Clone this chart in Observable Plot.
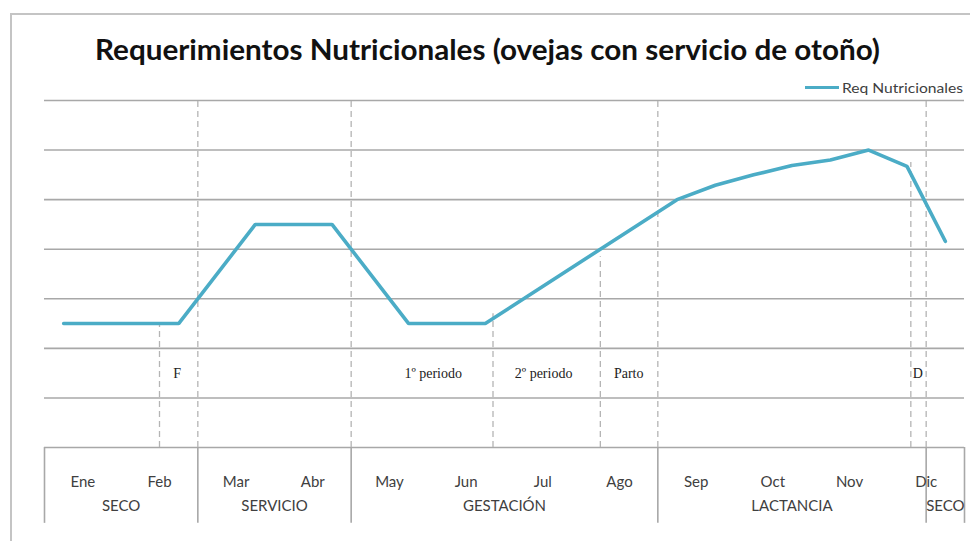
<!DOCTYPE html>
<html>
<head>
<meta charset="utf-8">
<script src="https://cdn.jsdelivr.net/npm/d3@7"></script>
<script src="https://cdn.jsdelivr.net/npm/@observablehq/plot@0.6"></script>
<style>
  html, body { margin: 0; padding: 0; background: #fff; }
  #wrap { position: relative; width: 970px; height: 541px; overflow: hidden; }
  #frame { position: absolute; left: 10px; top: 13px; width: 1000px; height: 600px;
           border-left: 2px solid #c4c4c4; border-top: 2px solid #c4c4c4; }
  #title { position: absolute; top: 31px; left: 0; white-space: nowrap;
           font-family: Lato, "Open Sans", sans-serif; font-weight: bold; font-size: 29px;
           color: #111; transform-origin: 0 0; }
  #legend { position: absolute; top: 79px; left: 805px; white-space: nowrap;
            font-family: Lato, "Open Sans", sans-serif; font-size: 14px; color: #404040;
            display: flex; align-items: center; }
  #legend .sw { display: inline-block; width: 34px; height: 3px; background: #4BACC6; margin-right: 3px; }
  #legend .lt { display: inline-block; transform-origin: 0 50%; }
  #chart { position: absolute; left: 0; top: 0; }
</style>
</head>
<body>
<div id="wrap">
  <div id="frame"></div>
  <div id="chart"></div>
  <div id="title">Requerimientos Nutricionales (ovejas con servicio de otoño)</div>
  <div id="legend"><span class="sw"></span><span class="lt">Req Nutricionales</span></div>
</div>
<script>
// ---- data ----
const seriesName = "Req Nutricionales";
// line vertices: position in months (Ene = 1) and requirement level
const lineX = [0.75, 2.25, 3.25, 4.25, 5.25, 6.25, 8.75, 9.25, 9.75, 10.25, 10.75, 11.25, 11.75, 12.25];
const lineY = [2.5, 2.5, 4.5, 4.5, 2.5, 2.5, 5.0, 5.29, 5.5, 5.69, 5.8, 6.0, 5.67, 4.16];

const months = ["Ene","Feb","Mar","Abr","May","Jun","Jul","Ago","Sep","Oct","Nov","Dic"];
const monthPos = [1,2,3,4,5,6,7,8,9,10,11,12];

const stages = ["SECO","SERVICIO","GESTACIÓN","LACTANCIA","SECO"];
const stageStart = [0.5, 2.5, 4.5, 8.5, 12];
const stageEnd   = [2.5, 4.5, 8.5, 12, 12.5];

const gridLevels = [1,2,3,4,5,6,7];

// tall dashed boundaries between stages
const stageBounds = [2.5, 4.5, 8.5, 12];
// short dashed event markers
const events = ["F","1º periodo","2º periodo","Parto","D"];
const eventPos = [2.23, 5.57, 7.01, 8.12, 11.89];
const markerPos = [2.0, 6.35, 7.75, 11.8];
const markerTop = [2.5, 2.7, 3.85, 5.75];

// ---- build tables ----
const lineData = lineX.map((x, i) => ({x, y: lineY[i], s: seriesName}));
const monthData = months.map((m, i) => ({m, x: monthPos[i]}));
const stageData = stages.map((s, i) => ({s, x: (stageStart[i] + stageEnd[i]) / 2}));
const eventData = events.map((e, i) => ({e, x: eventPos[i]}));
const markerData = markerPos.map((x, i) => ({x, top: markerTop[i]}));
const boxLines = [0.5, ...stageBounds, 12.5];

const plot = Plot.plot({
  width: 970,
  height: 541,
  margin: 0,
  x: {type: "linear", domain: [0.5, 12.5], range: [44, 964], axis: null},
  y: {type: "linear", domain: [0, 7], range: [447, 100], axis: null},
  style: {background: "transparent"},
  marks: [
    Plot.ruleY(gridLevels, {y: d => d, x1: 0.5, x2: 12.5, stroke: "#a8a8a8", strokeWidth: 1.6}),
    Plot.ruleY([0], {y: d => d, x1: 0.5, x2: 12.5, stroke: "#a8a8a8", strokeWidth: 1.6}),
    Plot.ruleX(stageBounds, {x: d => d, y1: 0, y2: 7.05, stroke: "#b4b4b4", strokeWidth: 1.3, strokeDasharray: "6,4"}),
    Plot.ruleX(markerData, {x: "x", y1: 0, y2: "top", stroke: "#b4b4b4", strokeWidth: 1.3, strokeDasharray: "6,4"}),
    Plot.ruleX(boxLines, {x: d => d, y1: 0, y2: -1.53, stroke: "#a8a8a8", strokeWidth: 1.6}),
    Plot.line(lineData, {x: "x", y: "y", stroke: "#4BACC6", strokeWidth: 3.6, strokeLinejoin: "miter"}),
    Plot.text(eventData, {x: "x", y: 1.5, text: "e", fontFamily: "'Liberation Serif', 'DejaVu Serif', serif", fontSize: 14, fill: "#222"}),
    Plot.text(monthData, {x: "x", y: -0.69, text: "m", fontFamily: "Lato, 'Open Sans', sans-serif", fontSize: 15, fill: "#404040"}),
    Plot.text(stageData, {x: "x", y: -1.19, text: "s", fontFamily: "Lato, 'Open Sans', sans-serif", fontSize: 15, fill: "#404040"})
  ]
});
document.getElementById("chart").appendChild(plot);

// fit title to its width in the reference (condensed face)
const t = document.getElementById("title");
const targetW = 785, targetL = 95;
const w = t.getBoundingClientRect().width;
t.style.left = targetL + "px";
t.style.transform = `scale(${targetW / w}, 1)`;

const lt = document.querySelector("#legend .lt");
const lw = lt.getBoundingClientRect().width;
lt.style.transform = `scale(${121 / lw}, 1)`;
</script>
</body>
</html>
